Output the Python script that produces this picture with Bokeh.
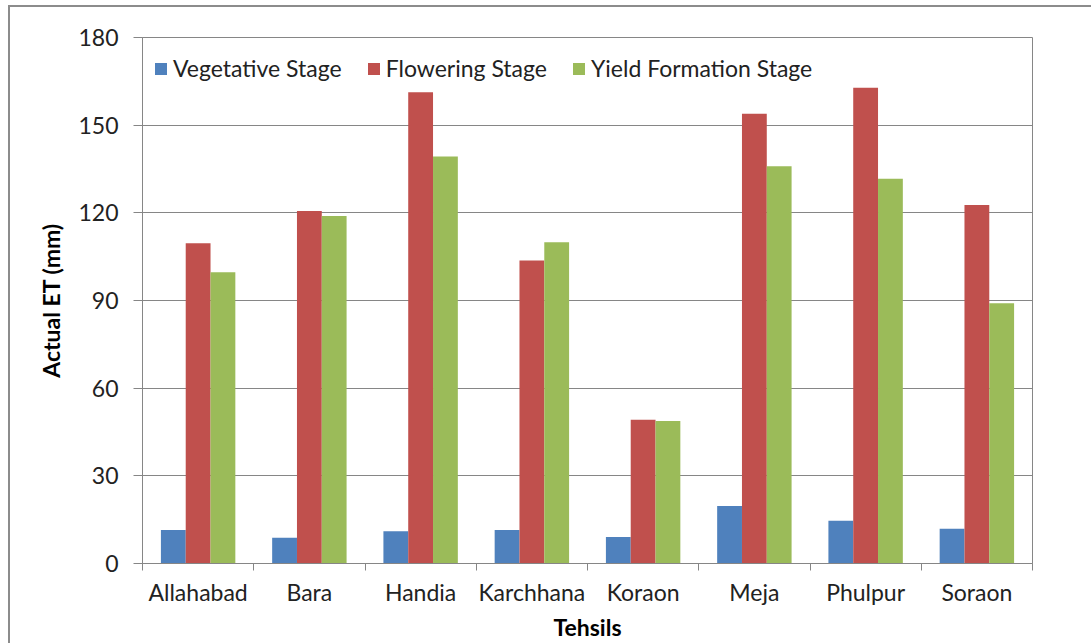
import numpy as np
from bokeh.plotting import figure
from bokeh.models import (ColumnDataSource, Range1d, FixedTicker, Legend, LegendItem, InlineStyleSheet)
from bokeh.transform import dodge
from bokeh.embed import file_html
from bokeh.resources import INLINE

categories = ["Allahabad", "Bara", "Handia", "Karchhana", "Koraon", "Meja", "Phulpur", "Soraon"]
vegetative = [11.5, 8.8, 11.0, 11.5, 9.1, 19.7, 14.6, 11.9]
flowering = [109.6, 120.6, 161.3, 103.7, 49.2, 153.9, 162.8, 122.7]
yield_formation = [99.7, 118.9, 139.3, 109.9, 48.8, 135.9, 131.7, 89.1]
series_names = ["Vegetative Stage", "Flowering Stage", "Yield Formation Stage"]
y_ticks = [0, 30, 60, 90, 120, 150, 180]

colors = ["#4F81BD", "#C0504D", "#9BBB59"]
FONT = "Lato"
FS = "23px"
GRAY = "#868686"

centers = [i + 0.5 for i in range(len(categories))]
source = ColumnDataSource(dict(x=centers, veg=vegetative, flo=flowering, yf=yield_formation))

p = figure(width=1091, height=643, output_backend="svg", toolbar_location=None,
           x_range=Range1d(0, len(categories)), y_range=Range1d(0, 180),
           min_border_left=142, min_border_right=59, min_border_top=37, min_border_bottom=79)

bw = 0.223
renderers = []
for field, off, c in zip(["veg", "flo", "yf"], [-bw, 0, bw], colors):
    r = p.vbar(x=dodge("x", off), top=field, width=bw, source=source,
               fill_color=c, line_color=None)
    renderers.append(r)

legend = Legend(items=[LegendItem(label=n, renderers=[r]) for n, r in zip(series_names, renderers)],
                orientation="horizontal", location=(11, 481),
                glyph_width=15, glyph_height=15, label_standoff=5, spacing=24,
                padding=0, margin=0, border_line_alpha=0, background_fill_alpha=0,
                label_text_font=FONT, label_text_font_size=FS, label_text_color="#222222")
p.add_layout(legend, "center")

# axes
p.xaxis.ticker = FixedTicker(ticks=centers, minor_ticks=list(range(len(categories) + 1)))
p.xaxis.major_label_overrides = {c: n for c, n in zip(centers, categories)}
p.xaxis.major_tick_out = 0
p.xaxis.major_tick_in = 0
p.xaxis.minor_tick_out = 7
p.xaxis.minor_tick_in = 0
p.xaxis.minor_tick_line_color = GRAY
p.xaxis.axis_line_color = GRAY
p.xaxis.major_label_text_font = FONT
p.xaxis.major_label_text_font_size = FS
p.xaxis.major_label_text_color = "#222222"
p.xaxis.major_label_standoff = 7
p.xaxis.axis_label = "Tehsils"
p.xaxis.axis_label_text_font = FONT
p.xaxis.axis_label_text_font_size = FS
p.xaxis.axis_label_text_font_style = "bold"
p.xaxis.axis_label_text_color = "#000000"
p.xaxis.axis_label_standoff = 4

p.yaxis.ticker = FixedTicker(ticks=y_ticks)
p.yaxis.major_tick_out = 9
p.yaxis.major_tick_in = 0
p.yaxis.minor_tick_line_color = None
p.yaxis.major_tick_line_color = GRAY
p.yaxis.axis_line_color = GRAY
p.yaxis.major_label_text_font = FONT
p.yaxis.major_label_text_font_size = FS
p.yaxis.major_label_text_color = "#222222"
p.yaxis.major_label_standoff = 15
p.yaxis.axis_label = "Actual ET (mm)"
p.yaxis.axis_label_text_font = FONT
p.yaxis.axis_label_text_font_size = FS
p.yaxis.axis_label_text_font_style = "bold"
p.yaxis.axis_label_text_color = "#000000"
p.yaxis.axis_label_standoff = 10

p.xgrid.grid_line_color = None
p.ygrid.ticker = FixedTicker(ticks=y_ticks)
p.ygrid.grid_line_color = GRAY
p.outline_line_color = GRAY
p.outline_line_width = 1

# outer chart-area border (as in the spreadsheet chart)
p.stylesheets = [InlineStyleSheet(css="""
:host { position: relative; }
:host::after {
  content: ""; position: absolute; left: 8px; top: 5px; right: 0; bottom: 0;
  border-left: 2px solid #8c8c8c; border-top: 2px solid #8c8c8c;
  pointer-events: none; z-index: 10;
}
""")]

open("out.html", "w").write(file_html(p, INLINE))
